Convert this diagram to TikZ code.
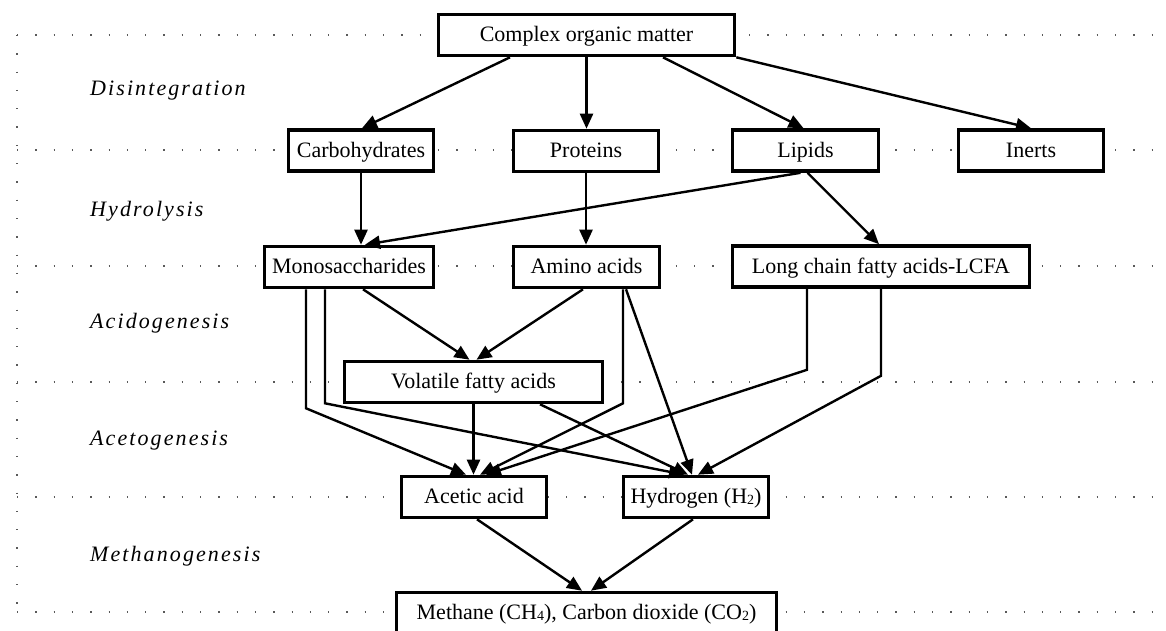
\documentclass[tikz,border=0pt]{standalone}
\usepackage{fontspec}
\setmainfont{Liberation Serif}
\newfontfamily\stagefont[LetterSpace=9.5]{Liberation Serif}
\usetikzlibrary{arrows.meta}
\newcommand\lowdigit[1]{{\fontsize{14}{14}\selectfont\raisebox{-0.2ex}{#1}}}
\begin{document}
\begin{tikzpicture}[x=1pt,y=-1pt,
  box/.style={draw, line width=3.6pt, fill=white, inner sep=0pt, minimum height=41pt, text height=15pt, text depth=1.6pt, font=\fontsize{22}{26}\selectfont},
  arr/.style={line width=2.4pt, -{Triangle[length=15pt,width=13pt]}},
  stage/.style={anchor=west, inner sep=0pt, font=\stagefont\itshape\fontsize{22}{26}\selectfont},
  dots/.style={line width=1.3pt, black!65, dash pattern=on 1.3pt off 17pt}]
\clip (0,0) rectangle (1166,631);
\fill[white] (0,0) rectangle (1166,631);
% dotted guide lines
\foreach \yy in {35,150,266,382,497,612}
  \draw[dots] (17,\yy) -- (1162,\yy);
\draw[dots] (17,35) -- (17,614);
% stage labels
\node[stage] (s1) at (90,91) {Disintegration};
\node[stage] (s2) at (90,211) {Hydrolysis};
\node[stage] (s3) at (90,323) {Acidogenesis};
\node[stage] (s4) at (90,441) {Acetogenesis};
\node[stage] (s5) at (90,556) {Methanogenesis};
% boxes
\node[box, minimum width=296pt] (com) at (586.5,35) {Complex organic matter};
\node[box, minimum width=145pt] (carb) at (361,150.5) {Carbohydrates};
\node[box, minimum width=145pt] (prot) at (586,151) {Proteins};
\node[box, minimum width=146pt] (lip) at (805.5,150.5) {Lipids};
\node[box, minimum width=145pt] (inert) at (1031,150.5) {Inerts};
\node[box, minimum width=169pt] (mono) at (349,267) {Monosaccharides};
\node[box, minimum width=146pt] (amino) at (586.5,267) {Amino acids};
\node[box, minimum width=297pt] (lcfa) at (881,266.5) {Long chain fatty acids-LCFA};
\node[box, minimum width=258pt] (vfa) at (473.5,382) {Volatile fatty acids};
\node[box, minimum width=145pt] (acet) at (474,497) {Acetic acid};
\node[box, minimum width=145pt] (hyd) at (696,497) {Hydrogen (H\lowdigit{2})};
\node[box, minimum width=380pt] (meth) at (586.5,613) {Methane (CH\lowdigit{4}), Carbon dioxide (CO\lowdigit{2})};
% connectors
\draw[arr] ([xshift=-76.5pt]com.south) -- ([xshift=1pt]carb.north);
\draw[arr] (com.south) -- (com.south |- prot.north);
\draw[arr] ([xshift=76.5pt]com.south) -- ([xshift=-2pt]lip.north);
\draw[arr] (com.south east) -- (inert.north);
\draw[arr] (carb.south) -- (carb.south |- mono.north);
\draw[arr] (prot.south) -- (prot.south |- amino.north);
\draw[arr] ([xshift=-5pt]lip.south) -- ([xshift=16pt]mono.north);
\draw[arr] ([xshift=2pt]lip.south) -- ([xshift=-2pt]lcfa.north);
\draw[arr] ([xshift=14pt]mono.south) -- ([xshift=-4pt]vfa.north);
\draw[arr] ([xshift=-3.5pt]amino.south) -- ([xshift=3pt]vfa.north);
\draw[arr] ([xshift=-43pt]mono.south) -- ++(0,119) -- ([xshift=-8pt]acet.north);
\draw[arr] ([xshift=-24pt]mono.south) -- ++(0,114) -- ([xshift=-12pt]hyd.north);
\draw[arr] (vfa.south) -- (vfa.south |- acet.north);
\draw[arr] ([xshift=66.5pt]vfa.south) -- ([xshift=-8pt]hyd.north);
\draw[arr] ([xshift=36.5pt]amino.south) -- ++(0,114) -- ([xshift=6pt]acet.north);
\draw[arr] ([xshift=39.5pt]amino.south) -- ([xshift=-4pt]hyd.north);
\draw[arr] ([xshift=-74pt]lcfa.south) -- ++(0,81) -- ([xshift=12pt]acet.north);
\draw[arr] (lcfa.south) -- ++(0,87) -- ([xshift=2pt]hyd.north);
\draw[arr] ([xshift=3pt]acet.south) -- ([xshift=-4.5pt]meth.north);
\draw[arr] ([xshift=-3pt]hyd.south) -- ([xshift=4.5pt]meth.north);
\end{tikzpicture}
\end{document}
